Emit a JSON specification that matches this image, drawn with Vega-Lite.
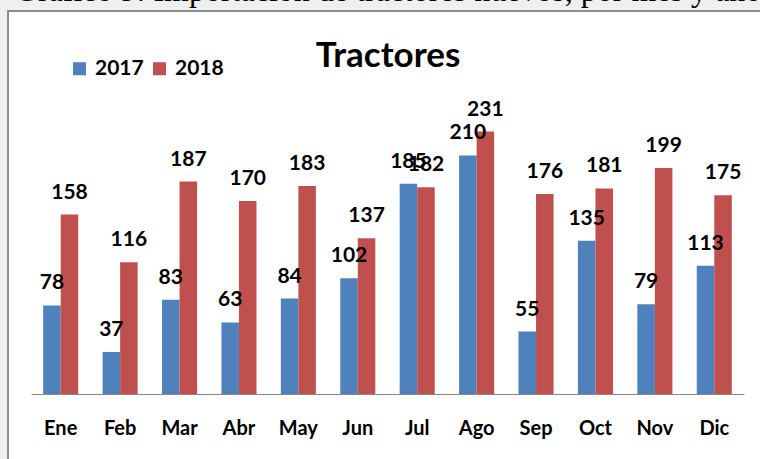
{
  "$schema": "https://vega.github.io/schema/vega-lite/v6.json",
  "width": 760,
  "height": 460,
  "autosize": {"type": "none"},
  "padding": {"left": 8, "top": 11, "right": 0, "bottom": 0},
  "background": "#efefef",
  "config": {
    "view": {"fill": "white", "stroke": "#8c8c8c", "strokeWidth": 2},
    "font": "Lato"
  },
  "title": {
    "text": "Gráfico 9: Importación de tractores nuevos, por mes y año",
    "subtitle": "Tractores",
    "anchor": "middle",
    "frame": "group",
    "orient": "top",
    "offset": -64,
    "font": "Liberation Serif",
    "fontSize": 32,
    "fontWeight": "normal",
    "color": "black",
    "subtitleFont": "Lato",
    "subtitleFontSize": 35,
    "subtitleFontWeight": "bold",
    "subtitleColor": "black",
    "subtitlePadding": 31
  },
  "data": {
    "values": [
      {"mes": "Ene", "anio": "2017", "valor": 78},
      {"mes": "Feb", "anio": "2017", "valor": 37},
      {"mes": "Mar", "anio": "2017", "valor": 83},
      {"mes": "Abr", "anio": "2017", "valor": 63},
      {"mes": "May", "anio": "2017", "valor": 84},
      {"mes": "Jun", "anio": "2017", "valor": 102},
      {"mes": "Jul", "anio": "2017", "valor": 185},
      {"mes": "Ago", "anio": "2017", "valor": 210},
      {"mes": "Sep", "anio": "2017", "valor": 55},
      {"mes": "Oct", "anio": "2017", "valor": 135},
      {"mes": "Nov", "anio": "2017", "valor": 79},
      {"mes": "Dic", "anio": "2017", "valor": 113},
      {"mes": "Ene", "anio": "2018", "valor": 158},
      {"mes": "Feb", "anio": "2018", "valor": 116},
      {"mes": "Mar", "anio": "2018", "valor": 187},
      {"mes": "Abr", "anio": "2018", "valor": 170},
      {"mes": "May", "anio": "2018", "valor": 183},
      {"mes": "Jun", "anio": "2018", "valor": 137},
      {"mes": "Jul", "anio": "2018", "valor": 182},
      {"mes": "Ago", "anio": "2018", "valor": 231},
      {"mes": "Sep", "anio": "2018", "valor": 176},
      {"mes": "Oct", "anio": "2018", "valor": 181},
      {"mes": "Nov", "anio": "2018", "valor": 199},
      {"mes": "Dic", "anio": "2018", "valor": 175}
    ]
  },
  "encoding": {
    "x": {
      "field": "mes",
      "type": "nominal",
      "sort": ["Ene", "Feb", "Mar", "Abr", "May", "Jun", "Jul", "Ago", "Sep", "Oct", "Nov", "Dic"],
      "scale": {"range": [23, 736], "paddingInner": 0.41, "paddingOuter": 0.205},
      "axis": {
        "title": null,
        "offset": -77,
        "ticks": false,
        "tickSize": 0,
        "labelAngle": 0,
        "labelPadding": 24,
        "labelFont": "Lato",
        "labelFontSize": 20,
        "labelFontWeight": "bold",
        "labelColor": "black",
        "domainColor": "#888888",
        "domainWidth": 1,
        "grid": false
      }
    },
    "xOffset": {"field": "anio", "type": "nominal"},
    "y": {
      "field": "valor",
      "type": "quantitative",
      "scale": {"domain": [0, 250], "range": [383, 99], "nice": false, "zero": true},
      "axis": null
    }
  },
  "layer": [
    {
      "mark": {"type": "bar"},
      "encoding": {
        "color": {
          "field": "anio",
          "type": "nominal",
          "scale": {"domain": ["2017", "2018"], "range": ["#4F81BD", "#C0504D"]},
          "legend": {
            "orient": "none",
            "legendX": 61,
            "legendY": 47,
            "direction": "horizontal",
            "title": null,
            "symbolType": "square",
            "symbolSize": 169,
            "symbolStrokeWidth": 0,
            "labelFont": "Lato",
            "labelFontSize": 21,
            "labelFontWeight": "bold",
            "labelColor": "black",
            "labelOffset": 5,
            "columnPadding": 5
          }
        }
      }
    },
    {
      "mark": {
        "type": "text",
        "dy": -22,
        "baseline": "middle",
        "align": "center",
        "font": "Lato",
        "fontSize": 21,
        "fontWeight": "bold",
        "color": "black"
      },
      "encoding": {"text": {"field": "valor", "type": "quantitative"}}
    }
  ]
}
